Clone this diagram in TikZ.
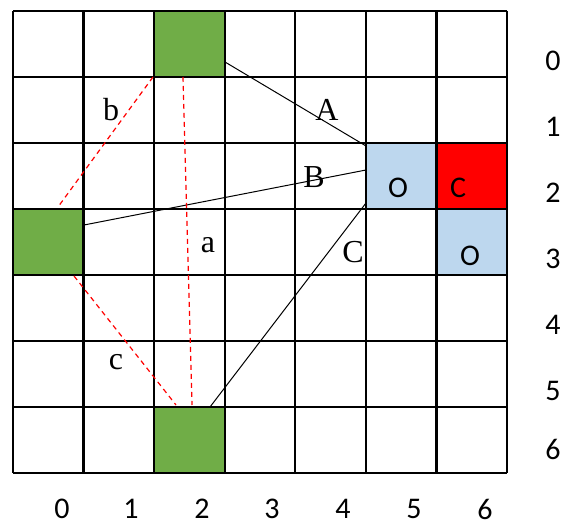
\documentclass[tikz,border=0pt]{standalone}
\usepackage{fontspec}
\setmainfont{Liberation Serif}
\newfontfamily\sansf{Carlito}
\begin{document}
\begin{tikzpicture}[x=1pt,y=-1pt,
  gridln/.style={line width=2.2pt},
  conn/.style={line width=1pt},
  redd/.style={red, line width=1.2pt, dash pattern=on 5pt off 4pt},
  cellbox/.style={minimum width=70.6pt, minimum height=66pt, inner sep=0pt, anchor=north west},
  serlab/.style={inner sep=0pt, font=\fontsize{32}{32}\selectfont},
  sanlab/.style={inner sep=0pt, font=\sansf\fontsize{30}{30}\selectfont}]
\definecolor{gr}{RGB}{112,173,71}
\definecolor{bl}{RGB}{189,215,238}
\useasboundingbox (0,0) rectangle (564,524);
% coloured cells
\node[fill=gr, cellbox] (g0) at (154.1,11) {};
\node[fill=gr, cellbox] (g1) at (13,209) {};
\node[fill=gr, cellbox] (g2) at (154.1,407) {};
\node[fill=bl, cellbox] (b0) at (365.9,143) {};
\node[fill=red, cellbox] (r0) at (436.4,143) {};
\node[fill=bl, cellbox] (b1) at (436.4,209) {};
% grid
\foreach \i in {0,...,7} {
  \draw[gridln] (13+70.57*\i,11) -- (13+70.57*\i,473);
  \draw[gridln] (13,11+66*\i) -- (507,11+66*\i);
}
% connector endpoints
\coordinate (pA1) at (225,62);
\coordinate (pA2) at (366,146);
\coordinate (pB1) at (84,225);
\coordinate (pB2) at (366,170);
\coordinate (pC1) at (210,407);
\coordinate (pC2) at (366,203);
\coordinate (rb1) at (153,77);
\coordinate (rb2) at (58,207);
\coordinate (ra1) at (183,77);
\coordinate (ra2) at (192,405);
\coordinate (rc1) at (74,276);
\coordinate (rc2) at (176,405);
\draw[conn] (pA1) -- (pA2);
\draw[conn] (pB1) -- (pB2);
\draw[conn] (pC1) -- (pC2);
\draw[redd] (rb1) -- (rb2);
\draw[redd] (ra1) -- (ra2);
\draw[redd] (rc1) -- (rc2);
% labels
\node[serlab] (la) at (208,245) {a};
\node[serlab] (lb) at (111,110) {b};
\node[serlab] (lc) at (116,362) {c};
\node[serlab] (lA) at (327,110) {A};
\node[serlab] (lB) at (314,177) {B};
\node[serlab] (lC) at (353,252) {C};
\node[sanlab] (o1) at (398,188) {O};
\node[sanlab] (c1) at (458,188) {C};
\node[sanlab] (o2) at (470,256) {O};
\foreach \n/\y in {0/61,1/127,2/193,3/259,4/325,5/391,6/449} {
  \node[sanlab] (row\n) at (553,\y) {\n};
}
\foreach \n/\x in {0/62,1/131,2/202,3/272,4/343,5/414,6/485} {
  \node[sanlab] (col\n) at (\x,509) {\n};
}
\end{tikzpicture}
\end{document}
